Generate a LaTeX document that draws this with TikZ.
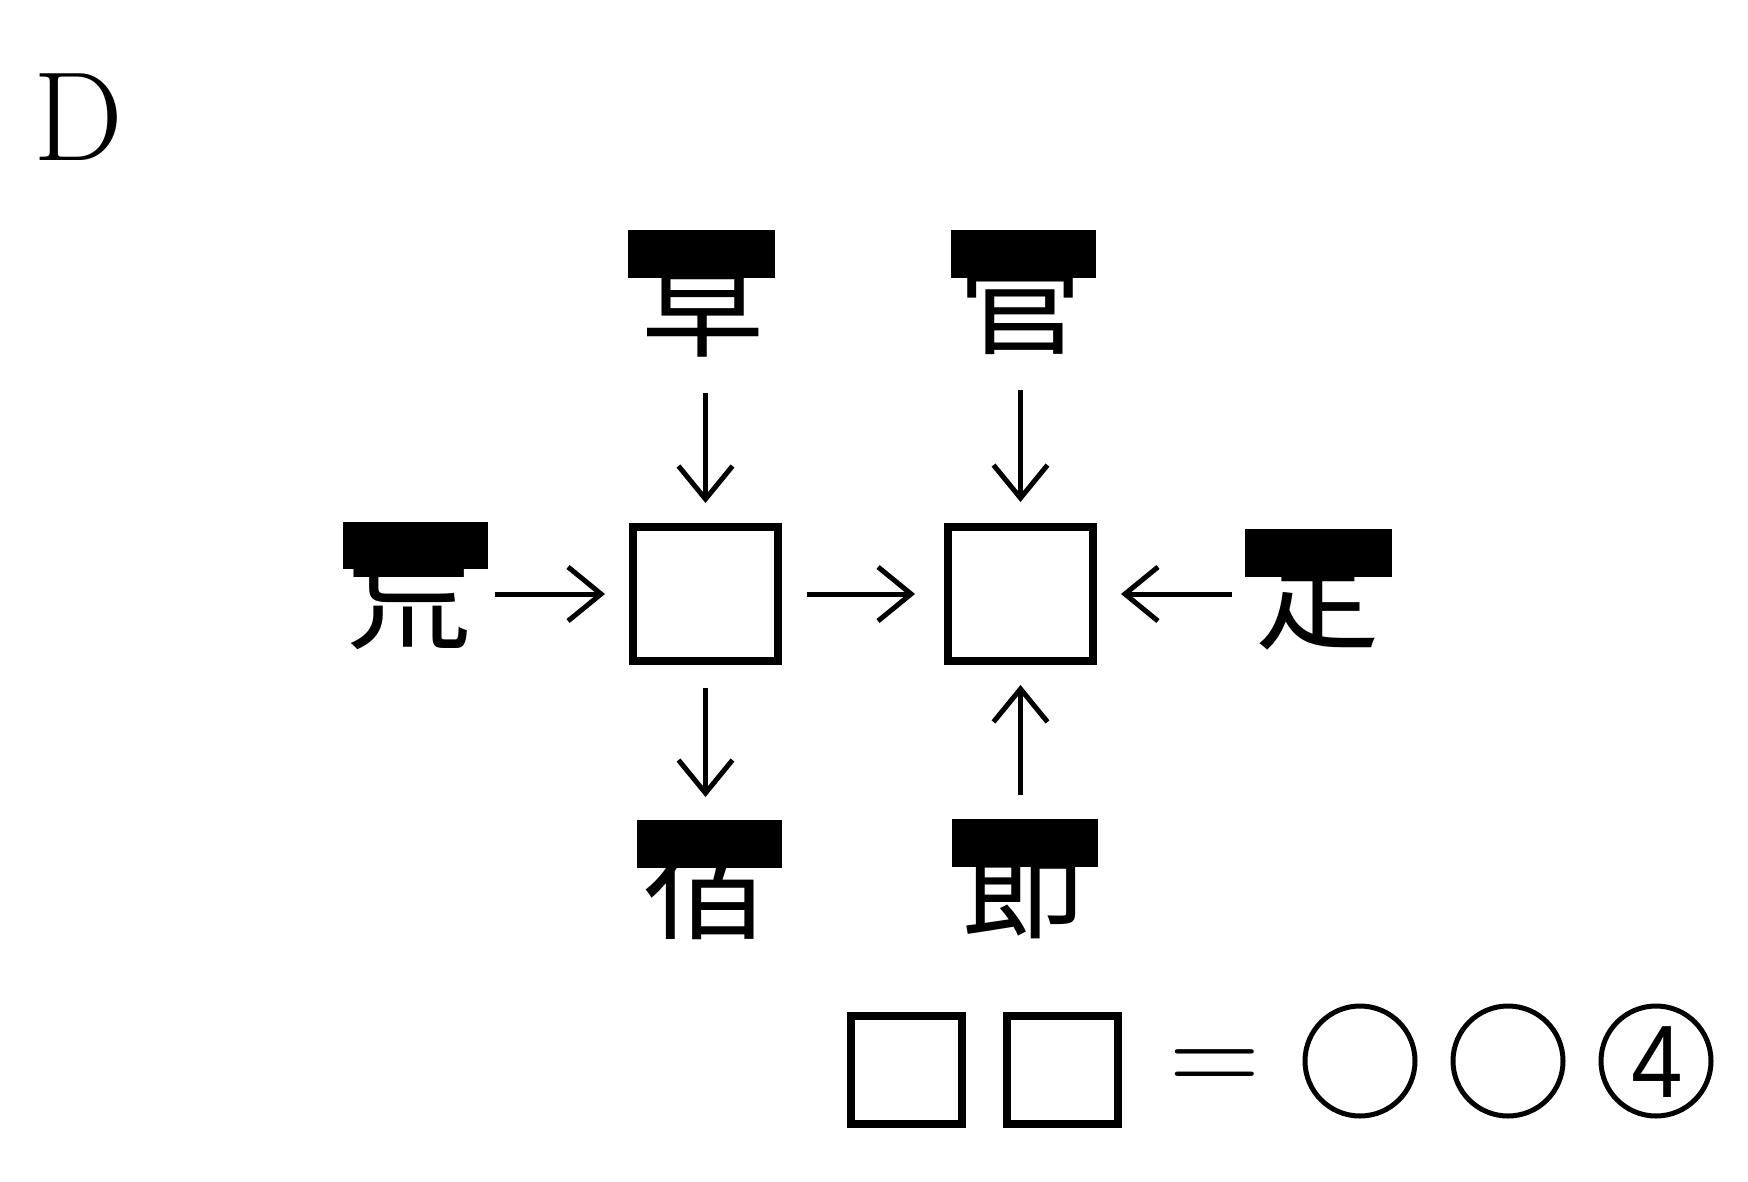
\documentclass[tikz,border=0pt]{standalone}
\usepackage{fontspec}
\newfontfamily\cjk{Noto Sans CJK JP}
\newfontfamily\sansdigit{Liberation Sans}
\usetikzlibrary{arrows.meta}
\begin{document}
\begin{tikzpicture}[x=1pt,y=-1pt,
  kanji/.style={font=\cjk\fontsize{125pt}{125pt}\selectfont, inner sep=0pt, outer sep=0pt, text height=110pt, text depth=15pt},
  blank/.style={draw, line width=8pt, inner sep=0pt, outer sep=0pt, minimum width=145pt, minimum height=134pt},
  flow/.style={line width=5pt, -{Straight Barb[length=33pt,width=54pt]}},
  ring/.style={circle, draw, line width=5pt, minimum size=110pt, inner sep=0pt, outer sep=0pt},
  sq/.style={draw, line width=8pt, inner sep=0pt, outer sep=0pt, minimum width=111pt, minimum height=108pt}]
\useasboundingbox (0,0) rectangle (1748,1181);
\fill[white] (0,0) rectangle (1748,1181);

\node[anchor=base west, font=\fontsize{127pt}{127pt}\selectfont, inner sep=0pt] (dlabel) at (33,160) {D};

% kanji
\node[kanji] (cao) at (703,300) {草};
\node[kanji] (guan) at (1020,297) {管};
\node[kanji] (huang) at (409,592) {荒};
\node[kanji] (ding) at (1318,592) {定};
\node[kanji] (su) at (706,882) {宿};
\node[kanji] (jie) at (1024,882) {節};

% masks
\fill[black] (628,230) rectangle (775,278);
\fill[black] (951,230) rectangle (1096,278);
\fill[black] (343,522) rectangle (488,569);
\fill[black] (1245,529) rectangle (1392,577);
\fill[black] (637,820) rectangle (782,868);
\fill[black] (952,819) rectangle (1098,867);

% boxes
\node[blank] (L) at (705.5,594) {};
\node[blank] (R) at (1020.5,594) {};

% arrows
\draw[flow, shorten <=30.5pt, shorten >=24pt] (L.north |- cao.south) -- (L.north);
\draw[flow, shorten <=30.5pt, shorten >=25pt] (R.north |- guan.south) -- (R.north);
\draw[flow, shorten <=23.5pt, shorten >=28pt] (L.west -| huang.east) -- (L.west);
\draw[flow, shorten <=29pt, shorten >=33pt] (L.east) -- (R.west);
\draw[flow, shorten <=23.5pt, shorten >=28pt] (R.east -| ding.west) -- (R.east);
\draw[flow, shorten <=27pt, shorten >=22.5pt] (L.south) -- (L.south |- su.north);
\draw[flow, shorten <=24.5pt, shorten >=24pt] (R.south |- jie.north) -- (R.south);

% equation
\node[sq] (s1) at (906.5,1070) {};
\node[sq] (s2) at (1062.5,1070) {};
\node[anchor=base, font=\fontsize{126pt}{126pt}\selectfont, inner sep=0pt] (eq) at (1215,1094.5) {=};
\node[ring] (c1) at (1360,1061) {};
\node[ring] (c2) at (1508,1061) {};
\node[ring] (c3) at (1656,1061) {};
\node[anchor=base, font=\sansdigit\fontsize{103pt}{103pt}\selectfont, inner sep=0pt, xscale=0.9] (four) at (1657,1097) {4};
\end{tikzpicture}
\end{document}
